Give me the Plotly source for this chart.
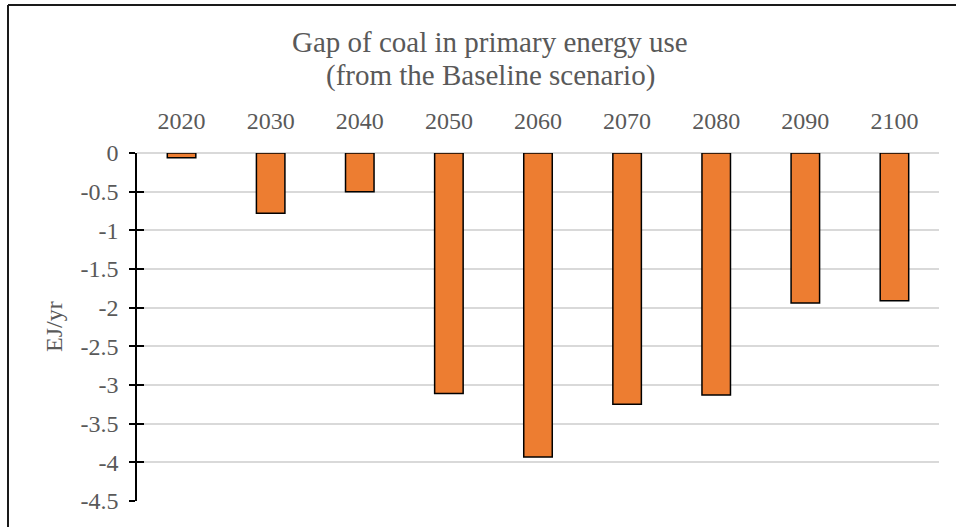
import plotly.graph_objects as go

years = ["2020", "2030", "2040", "2050", "2060", "2070", "2080", "2090", "2100"]
gap = [-0.06, -0.78, -0.50, -3.11, -3.93, -3.25, -3.13, -1.94, -1.91]
ytick_vals = [0, -0.5, -1, -1.5, -2, -2.5, -3, -3.5, -4, -4.5]
ytick_text = ["0", "-0.5", "-1", "-1.5", "-2", "-2.5", "-3", "-3.5", "-4", "-4.5"]
title_lines = ["Gap of coal in primary energy use", "(from the Baseline scenario)"]
y_title = "EJ/yr"

FONT = "Liberation Serif, Times New Roman, serif"
GRAY = "#595959"

W, H = 956, 527
L, R, T, B = 137, 17, 153, 26
pw, ph = W - L - R, H - T - B


def py(px):
    """pixel row (from top) -> paper y"""
    return 1 - (px - T) / ph


def px_(x):
    """pixel column -> paper x"""
    return (x - L) / pw


fig = go.Figure()
fig.add_trace(go.Bar(
    x=years, y=gap,
    marker=dict(color="#ED7D31", line=dict(color="#000000", width=1.5)),
    width=0.32, showlegend=False, hoverinfo="x+y",
))
# helper trace for the inside half of the cross ticks
fig.add_trace(go.Scatter(x=[years[0]], y=[None], yaxis="y2", mode="lines",
                         showlegend=False, hoverinfo="skip"))

annotations = [
    dict(text=title_lines[0], x=px_(490), y=py(42), xref="paper", yref="paper",
         xanchor="center", yanchor="middle", showarrow=False,
         font=dict(family=FONT, size=29, color=GRAY)),
    dict(text=title_lines[1], x=px_(490), y=py(75), xref="paper", yref="paper",
         xanchor="center", yanchor="middle", showarrow=False,
         font=dict(family=FONT, size=29, color=GRAY)),
    dict(text=y_title, textangle=-90, x=px_(54), xref="paper", xanchor="center",
         y=0.5, yref="paper", yanchor="middle", showarrow=False,
         font=dict(family=FONT, size=24, color=GRAY)),
]

frame = dict(color="#1a1a1a", width=2)
fig.update_layout(
    width=W, height=H,
    margin=dict(l=L, r=R, t=T, b=B, pad=0),
    paper_bgcolor="white", plot_bgcolor="white",
    font=dict(family=FONT, color=GRAY, size=24),
    xaxis=dict(
        type="category", side="top", range=[-0.5, 8.5],
        showline=False, showgrid=False, zeroline=False,
        ticks="", ticklabelstandoff=18,
        tickfont=dict(family=FONT, size=24, color=GRAY),
    ),
    yaxis=dict(
        range=[-4.5, 0], tickvals=ytick_vals, ticktext=ytick_text,
        showline=True, linecolor="#000000", linewidth=1.5,
        ticks="outside", ticklen=6, tickwidth=1.5, tickcolor="#000000",
        showgrid=True, gridcolor="#D9D9D9", gridwidth=1.5,
        zeroline=True, zerolinecolor="#D9D9D9", zerolinewidth=1.5,
        ticklabelstandoff=6,
        tickfont=dict(family=FONT, size=24, color=GRAY),
    ),
    yaxis2=dict(
        overlaying="y", anchor="x", side="left",
        range=[-4.5, 0], tickvals=ytick_vals,
        showticklabels=False, showline=False, showgrid=False, zeroline=False,
        ticks="inside", ticklen=7, tickwidth=1.5, tickcolor="#000000",
    ),
    annotations=annotations,
    shapes=[
        dict(type="line", xref="paper", yref="paper",
             x0=px_(8), x1=1.2, y0=py(5), y1=py(5), line=frame, layer="above"),
        dict(type="line", xref="paper", yref="paper",
             x0=px_(8), x1=px_(8), y0=py(5), y1=-0.3, line=frame, layer="above"),
    ],
)

fig.write_html("out.html",
               config={"displayModeBar": False},
               post_script="document.body.style.margin='0px';document.body.style.overflow='hidden';")
